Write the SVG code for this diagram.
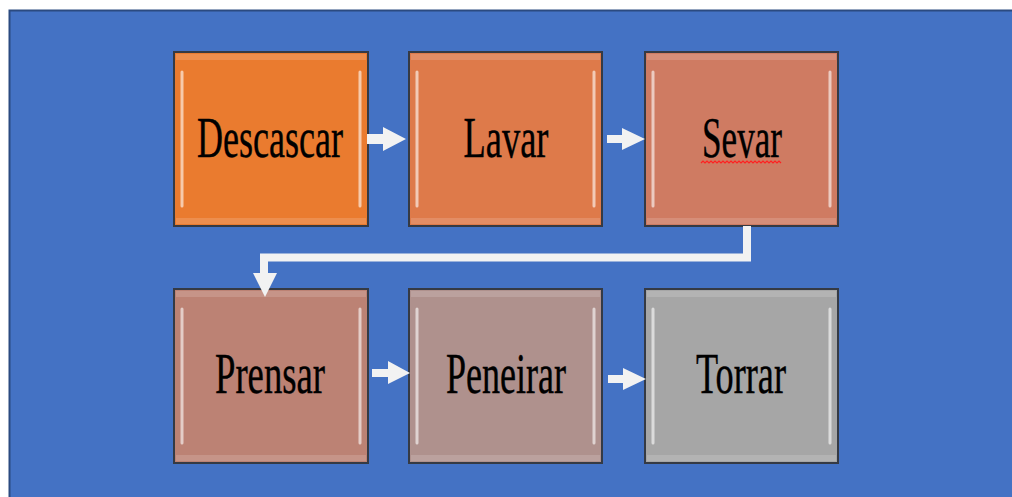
<svg xmlns="http://www.w3.org/2000/svg" width="1012" height="497" viewBox="0 0 1012 497">
<style>
.box{stroke:#353a44;stroke-width:2}
.hl{stroke:#ffffff;stroke-opacity:0.6;stroke-width:3;stroke-linecap:round;fill:none}
.band{fill:#ffffff;fill-opacity:0.15}
.lbl{font-family:"Liberation Serif","Times New Roman",serif;font-size:56px;fill:#000;stroke:#000;stroke-width:0.4;text-anchor:middle}
.arr{fill:#F2F2F2}
.conn{stroke:#F2F2F2;stroke-width:8;fill:none;stroke-linejoin:miter}
</style>
<rect x="0" y="0" width="1012" height="497" fill="#ffffff"/>
<rect x="9.5" y="10.5" width="1010" height="495" fill="#4472C4" stroke="#2B4A80" stroke-width="2"/>

<g id="node-descascar">
<rect class="box" x="174" y="52" width="194" height="174" fill="#EA7B2F"/>
<rect class="band" x="176" y="54" width="190" height="6"/>
<rect class="band" x="176" y="218" width="190" height="6"/>
<path class="hl" d="M182 72 V206 M360 72 V206"/>
<text class="lbl" x="270" y="157" textLength="146" lengthAdjust="spacingAndGlyphs">Descascar</text>
</g>

<g id="node-lavar">
<rect class="box" x="409" y="52" width="193" height="174" fill="#DE7A4A"/>
<rect class="band" x="411" y="54" width="189" height="6"/>
<rect class="band" x="411" y="218" width="189" height="6"/>
<path class="hl" d="M417 72 V206 M594 72 V206"/>
<text class="lbl" x="506" y="157" textLength="85" lengthAdjust="spacingAndGlyphs">Lavar</text>
</g>

<g id="node-sevar">
<rect class="box" x="645" y="52" width="193" height="174" fill="#CF7B62"/>
<rect class="band" x="647" y="54" width="189" height="6"/>
<rect class="band" x="647" y="218" width="189" height="6"/>
<path class="hl" d="M653 72 V206 M830 72 V206"/>
<text class="lbl" x="742" y="157" textLength="80" lengthAdjust="spacingAndGlyphs">Sevar</text>
<path d="M701 163 l2 -2 l2 2 l2 -2 l2 2 l2 -2 l2 2 l2 -2 l2 2 l2 -2 l2 2 l2 -2 l2 2 l2 -2 l2 2 l2 -2 l2 2 l2 -2 l2 2 l2 -2 l2 2 l2 -2 l2 2 l2 -2 l2 2 l2 -2 l2 2 l2 -2 l2 2 l2 -2 l2 2 l2 -2 l2 2 l2 -2 l2 2 l2 -2 l2 2 l2 -2 l2 2 l2 -2 l2 2" fill="none" stroke="#FF2020" stroke-width="1.2"/>
</g>

<g id="node-prensar">
<rect class="box" x="174" y="289" width="194" height="174" fill="#BC8274"/>
<rect class="band" x="176" y="291" width="190" height="6"/>
<rect class="band" x="176" y="455" width="190" height="6"/>
<path class="hl" d="M182 309 V443 M360 309 V443"/>
<text class="lbl" x="270" y="393" textLength="110" lengthAdjust="spacingAndGlyphs">Prensar</text>
</g>

<g id="node-peneirar">
<rect class="box" x="409" y="289" width="193" height="174" fill="#AF918D"/>
<rect class="band" x="411" y="291" width="189" height="6"/>
<rect class="band" x="411" y="455" width="189" height="6"/>
<path class="hl" d="M417 309 V443 M594 309 V443"/>
<text class="lbl" x="506" y="393" textLength="120" lengthAdjust="spacingAndGlyphs">Peneirar</text>
</g>

<g id="node-torrar">
<rect class="box" x="645" y="289" width="193" height="174" fill="#A6A6A6"/>
<rect class="band" x="647" y="291" width="189" height="6"/>
<rect class="band" x="647" y="455" width="189" height="6"/>
<path class="hl" d="M653 309 V443 M830 309 V443"/>
<text class="lbl" x="741" y="393" textLength="90" lengthAdjust="spacingAndGlyphs">Torrar</text>
</g>

<g id="connectors">
<polygon class="arr" points="367,134 383,134 383,127 406,139 383,151 383,144 367,144"/>
<polygon class="arr" points="607,135 622,135 622,128 645,139 622,150 622,143 607,143"/>
<polygon class="arr" points="372,369 388,369 388,361 410,373 388,384 388,377 372,377"/>
<polygon class="arr" points="608,375 623,375 623,368 646,379 623,390 623,383 608,383"/>
<path class="conn" d="M747 226 V257.5 H264 V274"/>
<polygon class="arr" points="253,273 277,273 265,297"/>
</g>
</svg>
